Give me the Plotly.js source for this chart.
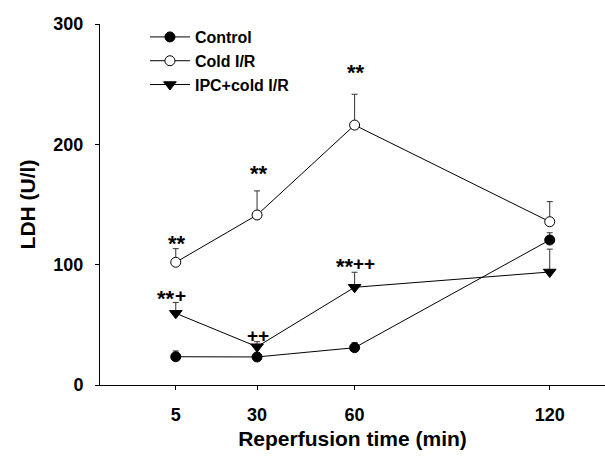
<!DOCTYPE html>
<html>
<head>
<meta charset="utf-8">
<script src="https://cdn.plot.ly/plotly-3.0.1.min.js"></script>
<style>html,body{margin:0;padding:0;background:#fff;}#chart{width:605px;height:461px;}</style>
</head>
<body>
<div id="chart"></div>
<script>
var times = [5, 30, 60, 120];
var tickLabels = ["5", "30", "60", "120"];

var controlMean = [23.5, 23.3, 31, 120.5];
var controlErr = [4.8, 2, 4.2, 6];

var coldMean = [102, 141.3, 216, 135.7];
var coldErr = [11.3, 20, 25.6, 16.7];

var ipcMean = [59.6, 31.8, 81.2, 93.9];
var ipcErr = [9, 4.2, 12.5, 19];

var sigLabels = ["**", "**", "**", "**+", "++", "**++"];
var sigX = [5, 30, 60, 3.4, 30, 60];
var sigY = [119, 177.3, 261.3, 73.4, 40.1, 100.3];

var FONT = "Liberation Sans, Arial, sans-serif";
var STAR_SIZE = 22, PLUS_SIZE = 19;
var STAR_W = 0.389 * STAR_SIZE, PLUS_W = 0.584 * PLUS_SIZE;

function errs(arr) {
  return {type: "data", symmetric: false, array: arr, arrayminus: arr.map(function(){return 0;}),
          color: "#333", thickness: 1, width: 3};
}

var traces = [
  {x: times, y: controlMean, name: "Control", type: "scatter", mode: "lines+markers",
   line: {color: "#000", width: 1},
   marker: {symbol: "circle", size: 10, color: "#000", line: {color: "#000", width: 1}},
   error_y: errs(controlErr)},
  {x: times, y: coldMean, name: "Cold I/R", type: "scatter", mode: "lines+markers",
   line: {color: "#000", width: 1},
   marker: {symbol: "circle", size: 10, color: "#fff", line: {color: "#000", width: 1}},
   error_y: errs(coldErr)},
  {x: times, y: ipcMean, name: "IPC+cold I/R", type: "scatter", mode: "lines+markers",
   line: {color: "#000", width: 1},
   marker: {symbol: "triangle-down", size: 11, color: "#000", line: {color: "#000", width: 1}},
   error_y: errs(ipcErr)}
];

var annotations = [];
sigLabels.forEach(function(t, i) {
  var stars = (t.match(/\*/g) || []).join("");
  var plus = (t.match(/\+/g) || []).join("");
  var W = stars.length * STAR_W + plus.length * PLUS_W;
  if (stars.length) {
    annotations.push({x: sigX[i], y: sigY[i], xref: "x", yref: "y", text: stars, showarrow: false,
      xanchor: "left", xshift: -W / 2, yshift: -2, borderpad: 0,
      font: {family: FONT, size: STAR_SIZE, color: "#000", weight: "bold"}});
  }
  if (plus.length) {
    annotations.push({x: sigX[i], y: sigY[i], xref: "x", yref: "y", text: plus, showarrow: false,
      xanchor: "left", xshift: -W / 2 + stars.length * STAR_W, yshift: 1, borderpad: 0,
      font: {family: FONT, size: PLUS_SIZE, color: "#000", weight: "bold"}});
  }
});

var layout = {
  width: 605, height: 461,
  margin: {l: 100, r: 0, t: 24, b: 76},
  paper_bgcolor: "#fff", plot_bgcolor: "#fff",
  font: {family: FONT, color: "#000"},
  showlegend: true,
  legend: {x: 0.089, y: 1.011, xanchor: "left", yanchor: "top", itemwidth: 40,
           font: {family: FONT, size: 16, color: "#000", weight: "bold"},
           bgcolor: "rgba(0,0,0,0)", tracegroupgap: 0},
  xaxis: {range: [-18.3, 137], tickvals: times, ticktext: tickLabels,
          showgrid: false, zeroline: false, showline: true, linecolor: "#000", linewidth: 1,
          ticks: "outside", ticklen: 4, tickcolor: "#000",
          tickfont: {family: FONT, size: 18, color: "#000", weight: "bold"},
          ticklabelstandoff: 9,
          title: {text: "Reperfusion time (min)", font: {family: FONT, size: 21, color: "#000", weight: "bold"}, standoff: 7}},
  yaxis: {range: [0, 300], tickvals: [0, 100, 200, 300],
          showgrid: false, zeroline: false, showline: true, linecolor: "#000", linewidth: 1,
          ticks: "outside", ticklen: 4, tickcolor: "#000",
          tickfont: {family: FONT, size: 18, color: "#000", weight: "bold"},
          ticklabelstandoff: 8,
          title: {text: "LDH (U/l)", font: {family: FONT, size: 21, color: "#000", weight: "bold"}, standoff: 12}},
  annotations: annotations
};

Plotly.newPlot("chart", traces, layout, {displayModeBar: false, staticPlot: true});
</script>
</body>
</html>
